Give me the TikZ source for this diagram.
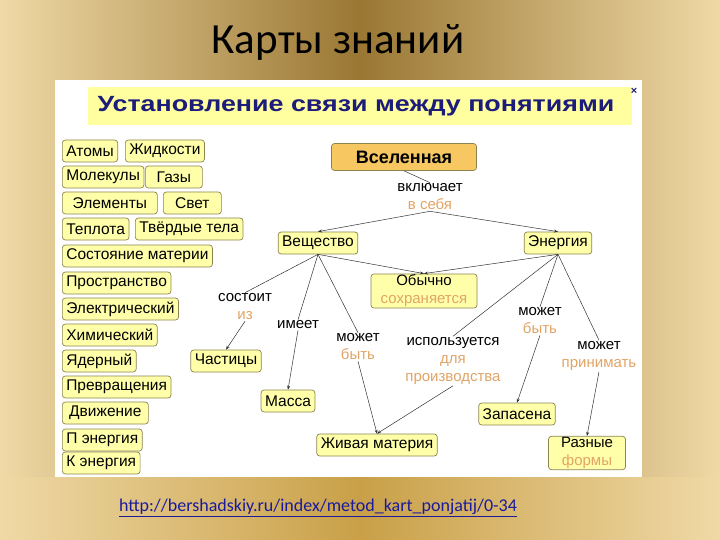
\documentclass[tikz,border=0pt]{standalone}
\usepackage{fontspec}
\setmainfont{Liberation Sans}
\newfontfamily\calfont{Carlito}
\usetikzlibrary{arrows.meta}
\definecolor{goldlight}{HTML}{EFD9A6}
\definecolor{golddark}{HTML}{9A7733}
\definecolor{goldmid}{HTML}{C9A048}
\definecolor{bandyellow}{HTML}{FFFFA0}
\definecolor{titleblue}{HTML}{1C1C7A}
\definecolor{boxfill}{HTML}{FFFFAA}
\definecolor{boxline}{HTML}{8C8450}
\definecolor{topfill}{HTML}{F7C862}
\definecolor{peach}{HTML}{E2A466}
\definecolor{linkgray}{HTML}{333333}
\definecolor{urlblue}{HTML}{1A1A9C}
\tikzset{
  concept/.style={draw=boxline, fill=boxfill, rounded corners=3pt, line width=0.7pt,
    inner xsep=4pt, inner ysep=1pt, minimum height=22pt,
    font=\fontsize{15.5}{18}\selectfont},
  tagbox/.style={concept, anchor=west},
  linklabel/.style={align=center, inner sep=1pt, font=\fontsize{15}{18}\selectfont},
  rel/.style={draw=linkgray, line width=0.5pt},
  relarrow/.style={rel, -{Stealth[length=4pt,width=3pt]}},
}
\newcommand{\pch}[1]{\textcolor{peach}{#1}}

\begin{document}
\begin{tikzpicture}[x=1pt,y=-1pt]
\useasboundingbox (0,0) rectangle (720,540);
\shade[left color=goldlight, right color=goldlight, middle color=golddark] (0,0) rectangle (720,477);
\shade[left color=goldlight, right color=goldlight, middle color=goldmid] (0,477) rectangle (720,540);
\fill[white] (55,80) rectangle (642,477);
\fill[bandyellow] (88,87) rectangle (632,125);

\node (slidetitle) at (338,42) {\calfont\fontsize{43}{45}\selectfont Карты знаний};
\node[text=titleblue, font=\bfseries\fontsize{22}{24}\selectfont] (head) at (356,106) {\scalebox{1.22}[1]{Установление связи между понятиями}};
\node[text=titleblue, font=\bfseries\fontsize{11}{12}\selectfont, inner sep=0pt] (close) at (634,91) {×};

% word bank
\node[tagbox] (atom) at (62,151) {Атомы};
\node[tagbox] (liquid) at (125,151) {Жидкости};
\node[tagbox] (molec) at (62,177) {Молекулы};
\node[tagbox, minimum width=57pt] (gas) at (145,177) {Газы};
\node[tagbox, minimum width=95pt] (elem) at (62,203) {Элементы};
\node[tagbox, minimum width=58pt] (light) at (163,203) {Свет};
\node[tagbox] (heat) at (62,229) {Теплота};
\node[tagbox] (solid) at (135,229) {Твёрдые тела};
\node[tagbox] (state) at (62,256) {Состояние материи};
\node[tagbox] (space) at (62,283) {Пространство};
\node[tagbox] (elec) at (62,309) {Электрический};
\node[tagbox] (chem) at (62,335) {Химический};
\node[tagbox] (nucl) at (62,361) {Ядерный};
\node[tagbox] (trans) at (62,387) {Превращения};
\node[tagbox, minimum width=86pt] (motion) at (62,413) {Движение};
\node[tagbox] (penerg) at (62,440) {П энергия};
\node[tagbox] (kenerg) at (62,463) {К энергия};

% map
\node[concept, fill=topfill, font=\bfseries\fontsize{18}{20}\selectfont, minimum width=145pt, minimum height=27pt] (univ) at (404,157) {Вселенная};
\node[concept] (matter) at (318,243) {Вещество};
\node[concept] (energy) at (558,243) {Энергия};
\node[concept, align=center, minimum width=106pt, font=\fontsize{15}{18}\selectfont] (kept) at (424,291) {Обычно\\\pch{сохраняется}};
\node[concept] (part) at (226,361) {Частицы};
\node[concept] (mass) at (288,401) {Масса};
\node[concept] (living) at (377,445) {Живая материя};
\node[concept] (stored) at (517,414) {Запасена};
\node[concept, align=center, minimum width=77pt, font=\fontsize{15}{18}\selectfont] (forms) at (587,453) {Разные\\\pch{формы}};

\node[linklabel] (incl) at (430,197) {включает\\\pch{в себя}};
\node[linklabel] (consist) at (245,307) {состоит\\\pch{из}};
\node[linklabel] (has) at (298,325) {имеет};
\node[linklabel] (canbe) at (358,347) {может\\\pch{быть}};
\node[linklabel] (used) at (453,361) {используется\\\pch{для}\\\pch{производства}};
\node[linklabel] (canbe2) at (540,321) {может\\\pch{быть}};
\node[linklabel] (take) at (599,356) {может\\\pch{принимать}};

\draw[rel] (univ.south) -- (incl.north);
\draw[relarrow] (incl.south) -- (matter.north);
\draw[relarrow] (incl.south) -- (energy.north);
\draw[relarrow] (matter.south) -- (kept.north);
\draw[relarrow] (energy.south) -- (kept.north);
\draw[rel] (matter.south) -- (consist.north);
\draw[relarrow] (consist.south) -- (part.north);
\draw[rel] (matter.south) -- (has.north);
\draw[relarrow] (has.south) -- (mass.north);
\draw[rel] (matter.south) -- (canbe.north);
\draw[relarrow] (canbe.south) -- (living.north);
\draw[rel] (energy.south) -- (used.north);
\draw[relarrow] (used.south) -- (living.north);
\draw[rel] (energy.south) -- (canbe2.north);
\draw[relarrow] (canbe2.south) -- (stored.north);
\draw[rel] (energy.south) -- (take.north);
\draw[relarrow] (take.south) -- (forms.north);

\node[text=urlblue, font=\calfont\fontsize{18}{20}\selectfont] (url) at (318,508) {\underline{http://bershadskiy.ru/index/metod\_kart\_ponjatij/0-34}};
\end{tikzpicture}
\end{document}
